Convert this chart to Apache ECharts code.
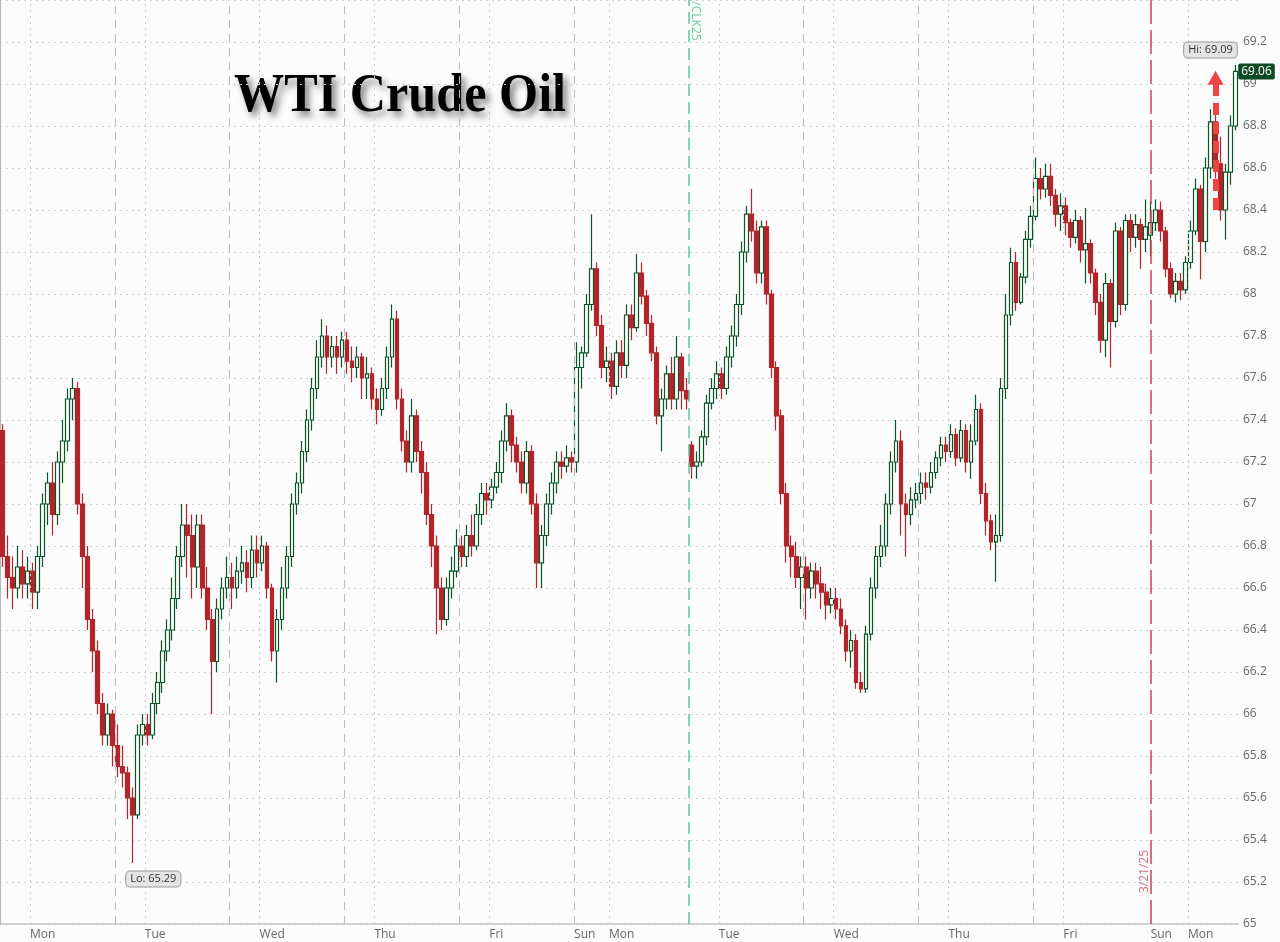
<!DOCTYPE html>
<html><head><meta charset="utf-8">
<script src="https://cdn.jsdelivr.net/npm/echarts@6/dist/echarts.min.js"></script>
<style>html,body{margin:0;padding:0;background:#fcfcfc}#c{width:1280px;height:942px}</style>
</head><body><div id="c"></div>
<script>
// Hourly candles, each row = [open, close, low, high]
const monWk1 = [
[67.35,66.75,66.7,67.38],[66.75,66.65,66.55,66.85],[66.65,66.6,66.5,66.75],[66.6,66.7,66.55,66.8],
[66.7,66.62,66.55,66.78],[66.62,66.68,66.55,66.75],[66.68,66.58,66.5,66.72],[66.58,66.75,66.5,66.8],
[66.75,67.0,66.7,67.05],[67.0,67.1,66.9,67.15],[67.1,66.95,66.85,67.2],[66.95,67.2,66.9,67.25],
[67.2,67.3,67.1,67.4],[67.3,67.5,67.25,67.55],[67.5,67.55,67.4,67.6],[67.55,67.0,66.95,67.58],
[67.0,66.75,66.6,67.05],[66.75,66.45,66.4,66.8],[66.45,66.3,66.2,66.5],[66.3,66.05,66.0,66.35],
[66.05,65.9,65.85,66.1],[65.9,66.0,65.85,66.05],[66.0,65.85,65.75,66.02]];
const tueWk1 = [
[65.85,65.75,65.7,65.95],[65.75,65.72,65.65,65.85],[65.72,65.6,65.5,65.75],[65.6,65.52,65.29,65.65],
[65.52,65.9,65.5,65.95],[65.9,65.95,65.85,66.0],[65.95,65.9,65.85,66.0],[65.9,66.05,65.88,66.1],
[66.05,66.15,66.0,66.2],[66.15,66.3,66.1,66.35],[66.3,66.4,66.25,66.45],[66.4,66.55,66.35,66.65],
[66.55,66.75,66.5,66.8],[66.75,66.9,66.7,67.0],[66.9,66.85,66.65,67.0],[66.85,66.7,66.55,66.95],
[66.7,66.9,66.6,66.95],[66.9,66.6,66.55,66.95],[66.6,66.45,66.4,66.7],[66.45,66.25,66.0,66.5],
[66.25,66.5,66.2,66.55],[66.5,66.6,66.45,66.65],[66.6,66.65,66.55,66.75]];
const wedWk1 = [
[66.65,66.6,66.5,66.72],[66.6,66.68,66.55,66.75],[66.68,66.72,66.62,66.8],[66.72,66.65,66.58,66.78],
[66.65,66.78,66.6,66.85],[66.78,66.72,66.65,66.85],[66.72,66.8,66.68,66.85],[66.8,66.6,66.55,66.82],
[66.6,66.3,66.25,66.62],[66.3,66.45,66.15,66.5],[66.45,66.6,66.4,66.7],[66.6,66.75,66.55,66.8],
[66.75,67.0,66.7,67.05],[67.0,67.1,66.95,67.15],[67.1,67.25,67.05,67.3],[67.25,67.4,67.2,67.45],
[67.4,67.55,67.35,67.6],[67.55,67.7,67.5,67.78],[67.7,67.8,67.65,67.88],[67.8,67.7,67.62,67.85],
[67.7,67.75,67.65,67.8],[67.75,67.7,67.62,67.8],[67.7,67.78,67.65,67.82]];
const thuWk1 = [
[67.78,67.68,67.62,67.82],[67.68,67.65,67.58,67.75],[67.65,67.7,67.6,67.75],[67.7,67.6,67.5,67.72],
[67.6,67.62,67.5,67.7],[67.62,67.5,67.45,67.65],[67.5,67.45,67.38,67.55],[67.45,67.55,67.42,67.6],
[67.55,67.7,67.5,67.75],[67.7,67.88,67.65,67.95],[67.88,67.5,67.45,67.92],[67.5,67.3,67.25,67.55],
[67.3,67.2,67.15,67.35],[67.2,67.42,67.15,67.5],[67.42,67.25,67.2,67.45],[67.25,67.15,67.05,67.3],
[67.15,66.95,66.9,67.2],[66.95,66.8,66.7,67.0],[66.8,66.6,66.38,66.85],[66.6,66.45,66.4,66.65],
[66.45,66.6,66.42,66.65],[66.6,66.68,66.55,66.75],[66.68,66.8,66.65,66.88]];
const friWk1 = [
[66.8,66.75,66.7,66.85],[66.75,66.85,66.7,66.9],[66.85,66.8,66.75,66.95],[66.8,66.95,66.78,67.0],
[66.95,67.05,66.9,67.1],[67.05,67.02,66.95,67.1],[67.02,67.08,66.98,67.12],[67.08,67.15,67.05,67.2],
[67.15,67.3,67.1,67.35],[67.3,67.42,67.25,67.48],[67.42,67.28,67.2,67.45],[67.28,67.2,67.15,67.32],
[67.2,67.1,67.05,67.25],[67.1,67.25,67.05,67.3],[67.25,67.0,66.95,67.28],[67.0,66.72,66.6,67.05],
[66.72,66.85,66.6,66.9],[66.85,67.0,66.8,67.05],[67.0,67.1,66.95,67.15],[67.1,67.2,67.05,67.25],
[67.2,67.18,67.12,67.25],[67.18,67.22,67.15,67.28],[67.22,67.2,67.15,67.25]];
const monWk2 = [
[67.2,67.65,67.15,67.77],[67.65,67.72,67.55,67.75],[67.72,67.95,67.7,68.0],[67.95,68.12,67.92,68.38],
[68.12,67.85,67.8,68.15],[67.85,67.65,67.6,67.9],[67.65,67.68,67.58,67.75],[67.68,67.56,67.5,67.72],
[67.56,67.72,67.52,67.78],[67.72,67.66,67.6,67.78],[67.66,67.9,67.6,67.95],[67.9,67.84,67.78,67.95],
[67.84,68.1,67.82,68.19],[68.1,67.99,67.95,68.15],[67.99,67.86,67.8,68.02],[67.86,67.72,67.68,67.9],
[67.72,67.42,67.38,67.75],[67.42,67.5,67.25,67.55],[67.5,67.62,67.45,67.66],[67.62,67.5,67.45,67.7],
[67.5,67.7,67.45,67.8],[67.7,67.54,67.45,67.72],[67.54,67.5,67.45,67.6]];
const tueWk2 = [
[67.28,67.18,67.12,67.3],[67.18,67.2,67.12,67.25],[67.2,67.32,67.18,67.35],[67.32,67.48,67.28,67.52],
[67.48,67.55,67.45,67.6],[67.55,67.62,67.5,67.68],[67.62,67.55,67.5,67.65],[67.55,67.7,67.52,67.75],
[67.7,67.8,67.65,67.85],[67.8,67.95,67.75,68.0],[67.95,68.2,67.9,68.25],[68.2,68.38,68.15,68.42],
[68.38,68.3,68.25,68.5],[68.3,68.1,68.05,68.35],[68.1,68.32,68.05,68.35],[68.32,68.0,67.95,68.35],
[68.0,67.65,67.6,68.02],[67.65,67.42,67.35,67.68],[67.42,67.05,67.0,67.45],[67.05,66.8,66.72,67.1],
[66.8,66.75,66.65,66.85],[66.75,66.65,66.6,66.82],[66.65,66.7,66.5,66.75]];
const wedWk2 = [
[66.7,66.6,66.45,66.75],[66.6,66.68,66.55,66.72],[66.68,66.62,66.55,66.72],[66.62,66.58,66.5,66.7],
[66.58,66.52,66.45,66.62],[66.52,66.55,66.48,66.6],[66.55,66.5,66.45,66.6],[66.5,66.42,66.38,66.55],
[66.42,66.3,66.25,66.45],[66.3,66.35,66.22,66.4],[66.35,66.15,66.12,66.38],[66.15,66.12,66.1,66.2],
[66.12,66.38,66.1,66.42],[66.38,66.6,66.35,66.65],[66.6,66.75,66.55,66.8],[66.75,66.8,66.7,66.9],
[66.8,67.0,66.75,67.05],[67.0,67.2,66.95,67.25],[67.2,67.3,67.15,67.4],[67.3,67.0,66.85,67.35],
[67.0,66.95,66.75,67.05],[66.95,67.02,66.9,67.08],[67.02,67.05,66.98,67.1]];
const thuWk2 = [
[67.05,67.1,67.0,67.15],[67.1,67.08,67.02,67.15],[67.08,67.15,67.05,67.2],[67.15,67.22,67.12,67.25],
[67.22,67.28,67.18,67.32],[67.28,67.25,67.2,67.32],[67.25,67.33,67.22,67.38],[67.33,67.22,67.18,67.36],
[67.22,67.35,67.2,67.4],[67.35,67.2,67.15,67.38],[67.2,67.3,67.12,67.38],[67.3,67.45,67.28,67.52],
[67.45,67.05,67.0,67.48],[67.05,66.92,66.85,67.1],[66.92,66.82,66.78,66.95],[66.82,66.85,66.63,66.95],
[66.85,67.55,66.82,67.6],[67.55,67.9,67.5,68.0],[67.9,68.15,67.85,68.22],[68.15,67.96,67.92,68.2],
[67.96,68.08,67.95,68.1],[68.08,68.26,68.05,68.3],[68.26,68.37,68.22,68.42]];
const friWk2 = [
[68.37,68.55,68.35,68.65],[68.55,68.5,68.45,68.6],[68.5,68.56,68.46,68.62],[68.56,68.47,68.42,68.62],
[68.47,68.38,68.32,68.5],[68.38,68.42,68.3,68.48],[68.42,68.34,68.28,68.46],[68.34,68.27,68.22,68.36],
[68.27,68.35,68.24,68.4],[68.35,68.21,68.15,68.37],[68.21,68.24,68.05,68.41],[68.24,68.1,68.05,68.26],
[68.1,67.96,67.9,68.12],[67.96,67.78,67.72,68.0],[67.78,68.05,67.7,68.1],[68.05,67.87,67.65,68.07],
[67.87,68.3,67.84,68.34],[68.3,67.95,67.9,68.32],[67.95,68.35,67.92,68.38],[68.35,68.27,68.2,68.38],
[68.27,68.33,68.22,68.38],[68.33,68.26,68.12,68.36],[68.26,68.32,68.2,68.45]];
const monWk3 = [
[68.28,68.34,68.18,68.44],[68.34,68.4,68.3,68.45],[68.4,68.3,68.25,68.44],[68.3,68.12,68.08,68.32],
[68.12,68.0,67.98,68.15],[68.0,68.06,67.96,68.1],[68.06,68.02,67.97,68.1],[68.02,68.15,68.0,68.18],
[68.15,68.3,68.12,68.35],[68.3,68.5,68.28,68.55],[68.5,68.25,68.07,68.52],[68.25,68.6,68.2,68.65],
[68.6,68.82,68.55,68.88],[68.82,68.62,68.55,68.9],[68.62,68.4,68.35,68.75],[68.4,68.58,68.26,68.62],
[68.58,68.8,68.52,68.85],[68.8,69.06,68.78,69.09]];

// x-axis day labels (position in hours from start) and session breaks
const dayTickPos   = [6, 29, 52, 75, 98, 115, 122, 144, 167, 190, 213, 230.5, 238];
const dayTickNames = ['Mon','Tue','Wed','Thu','Fri','Sun','Mon','Tue','Wed','Thu','Fri','Sun','Mon'];
const sessionBreaks = [23, 46, 69, 92, 115, 161, 184, 207];
const rollBreak = 138;      // contract roll (/CLK25)
const weekBreak = 230.5;    // 3/21/25
const yTicksMin = 65, yTicksMax = 69.4, yStep = 0.2;
const loValue = 65.29, hiValue = 69.09, lastValue = 69.06;
const loIndex = 26, hiIndex = 247;
const arrowIndex = 243, arrowFrom = 68.4, arrowTo = 69.03;

const candles = [].concat(monWk1, tueWk1, wedWk1, thuWk1, friWk1, monWk2, tueWk2, wedWk2, thuWk2, friWk2, monWk3);
const categories = candles.map((_, i) => String(i));
const N = candles.length;

const vLines = [];
sessionBreaks.forEach(v => vLines.push({xAxis: v, lineStyle: {color: '#bbbbbb', type: [8, 6], width: 1}}));
dayTickPos.forEach((v, k) => {
  if (dayTickNames[k] !== 'Sun') vLines.push({xAxis: v, lineStyle: {color: '#cccccc', type: [2, 4], width: 1}});
});
vLines.push({xAxis: rollBreak, lineStyle: {color: '#5cc79a', type: [12, 6], width: 1.5}});
vLines.push({xAxis: weekBreak, lineStyle: {color: '#c8405a', type: [24, 6], width: 1.5}});

const fontUI = '"Open Sans", "Noto Sans", sans-serif';
const chart = echarts.init(document.getElementById('c'));
chart.setOption({
  backgroundColor: '#fcfcfc',
  animation: false,
  grid: {left: 0, right: 42, top: 0, bottom: 18},
  graphic: [{
    type: 'text', left: 234, top: 70, scaleX: 0.93,
    style: {
      text: 'WTI Crude Oil',
      font: 'bold 54px "Liberation Serif", "Times New Roman", serif',
      fill: '#000',
      textShadowColor: 'rgba(0,0,0,0.5)', textShadowBlur: 7,
      textShadowOffsetX: 4, textShadowOffsetY: 5
    }
  }],
  xAxis: [{
    type: 'category', data: categories, show: false, boundaryGap: true
  }, {
    type: 'value', min: 0, max: N, position: 'bottom',
    axisLine: {show: true, onZero: false, lineStyle: {color: '#c4c4c4', width: 1.5}},
    axisTick: {show: false},
    splitLine: {show: false},
    axisLabel: {
      customValues: dayTickPos, align: 'left', margin: 5,
      color: '#666', fontSize: 12, fontFamily: fontUI,
      formatter: v => dayTickNames[dayTickPos.indexOf(v)] || ''
    }
  }],
  yAxis: {
    type: 'value', position: 'right', min: yTicksMin, max: yTicksMax, interval: yStep,
    axisLine: {show: true, lineStyle: {color: '#b5b5b5'}},
    axisTick: {show: false},
    axisLabel: {
      margin: 5, color: '#666', fontSize: 12, fontFamily: fontUI,
      formatter: v => v > 69.3 ? '' : String(Math.round(v * 10) / 10)
    },
    splitLine: {lineStyle: {color: '#d2d2d2', type: [2, 4]}}
  },
  series: [{
    type: 'line', xAxisIndex: 1, data: [[0, 65]], showSymbol: false, silent: true,
    lineStyle: {opacity: 0},
    markLine: {silent: true, symbol: ['none', 'none'], label: {show: false}, data: vLines}
  }, {
    type: 'scatter', xAxisIndex: 1, symbolSize: 0, silent: true,
    data: [{value: [rollBreak + 1.3, 69.3], label: {formatter: '/CLK25', color: '#3fbf80', rotate: -90}},
           {value: [weekBreak - 1.3, 65.25], label: {formatter: '3/21/25', color: '#d0455a', rotate: 90}}],
    label: {show: true, position: 'inside', fontSize: 12, fontFamily: fontUI}
  }, {
    type: 'candlestick', xAxisIndex: 0, data: candles, barWidth: 4.2, clip: false,
    itemStyle: {
      color: '#ffffff', borderColor: '#0b5428',
      color0: '#b3252b', borderColor0: '#b3252b', borderWidth: 1.2
    },
    markPoint: {
      silent: true, symbol: 'circle', symbolSize: 0,
      data: [
        {coord: [hiIndex, hiValue], label: {show: true, formatter: 'Hi: ' + hiValue.toFixed(2), position: 'inside', offset: [-25, -15],
          color: '#333', fontSize: 11, fontFamily: fontUI, backgroundColor: '#e4e4e4', borderColor: '#9a9a9a', borderWidth: 1, borderRadius: 4, padding: [2, 4]}},
        {coord: [loIndex, loValue], label: {show: true, formatter: 'Lo: ' + loValue.toFixed(2), position: 'inside', offset: [21, 16],
          color: '#333', fontSize: 11, fontFamily: fontUI, backgroundColor: '#e4e4e4', borderColor: '#9a9a9a', borderWidth: 1, borderRadius: 4, padding: [2, 4]}},
        {coord: [hiIndex, lastValue], label: {show: true, formatter: lastValue.toFixed(2), position: 'inside', offset: [21, 0],
          color: '#fff', fontSize: 12, fontFamily: fontUI, backgroundColor: '#0d4a24', borderRadius: 2, padding: [2, 3]}}
      ]
    }
  }, {
    type: 'line', xAxisIndex: 0, data: [], silent: true, z: 20,
    markLine: {
      silent: true, z: 20, symbol: ['none', 'triangle'], symbolSize: [16, 14],
      label: {show: false},
      lineStyle: {color: '#f04444', width: 6, type: [12, 7], cap: 'butt', opacity: 1},
      itemStyle: {color: '#f04444'},
      data: [[{coord: [arrowIndex, arrowFrom]}, {coord: [arrowIndex, arrowTo]}]]
    }
  }]
});
</script></body></html>
